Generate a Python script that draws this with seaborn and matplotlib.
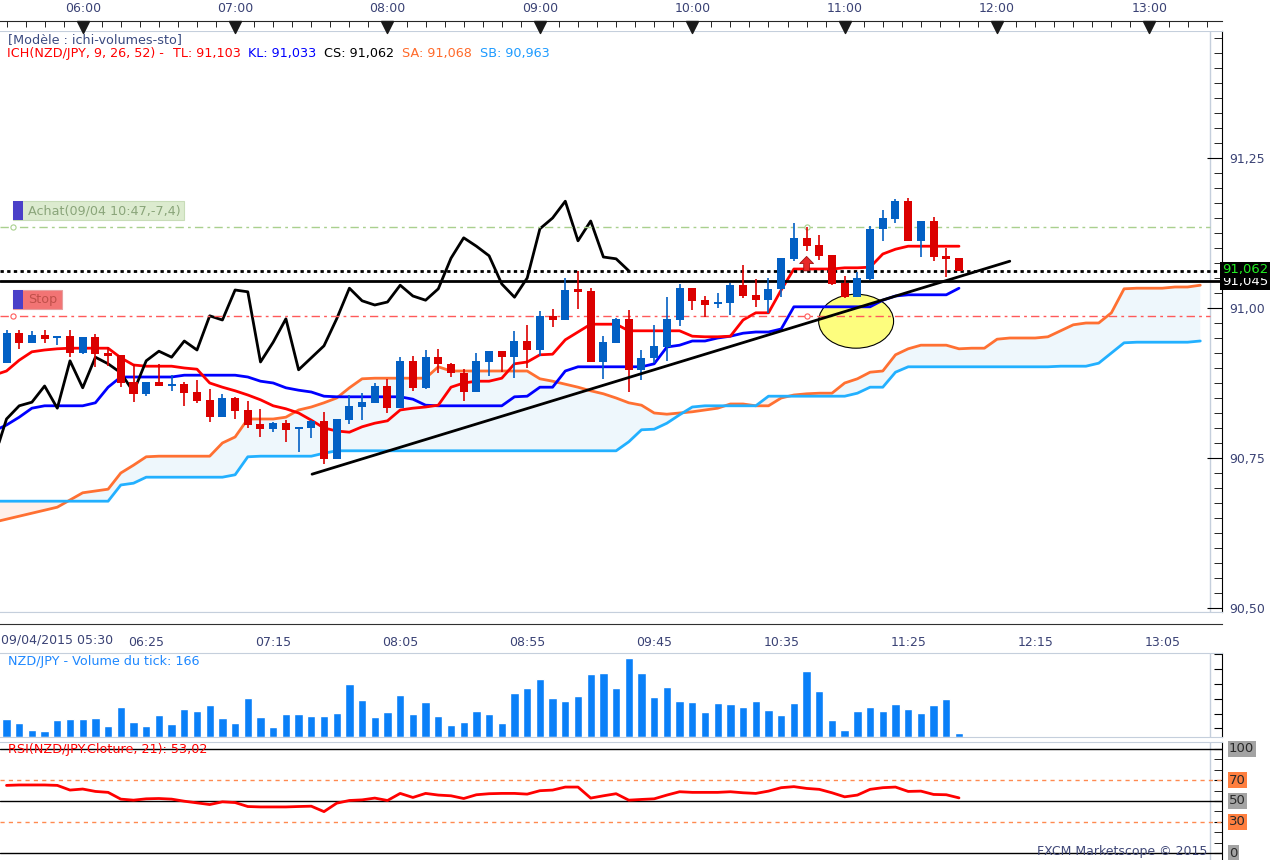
import numpy as np
import pandas as pd
import matplotlib
matplotlib.use("Agg")
import matplotlib.pyplot as plt
import matplotlib.patches as mpatches
import matplotlib.transforms as mtransforms
from matplotlib.ticker import MultipleLocator, FixedLocator
import seaborn as sns

sns.set_style("white")
plt.rcParams['font.family'] = ['DejaVu Sans']
plt.rcParams['font.size'] = 8.5

# %% data : NZD/JPY 5 min bars, 09/04/2015 from 05:30
t0 = pd.Timestamp("2015-04-09 05:30")

opens = [90.908, 90.958, 90.942, 90.955, 90.950, 90.953, 90.925, 90.952, 90.925, 90.922,
         90.877, 90.857, 90.877, 90.870, 90.873, 90.860, 90.847, 90.818, 90.850, 90.830,
         90.807, 90.798, 90.808, 90.798, 90.800, 90.812, 90.748, 90.813, 90.835, 90.842,
         90.870, 90.833, 90.912, 90.867, 90.918, 90.907, 90.892, 90.860, 90.910, 90.928,
         90.918, 90.945, 90.930, 90.987, 90.980, 91.032, 91.028, 90.910, 90.942, 90.982,
         90.897, 90.917, 90.935, 90.980, 91.033, 91.013, 91.007, 91.008, 91.038, 91.022,
         91.013, 91.032, 91.082, 91.117, 91.105, 91.088, 91.042, 91.018, 91.048, 91.132,
         91.148, 91.178, 91.112, 91.145, 91.087, 91.083]
highs = [90.963, 90.963, 90.962, 90.963, 90.953, 90.963, 90.952, 90.957, 90.935, 90.922,
         90.907, 90.877, 90.907, 90.888, 90.877, 90.880, 90.865, 90.857, 90.852, 90.845,
         90.832, 90.810, 90.813, 90.802, 90.813, 90.827, 90.815, 90.855, 90.858, 90.875,
         90.882, 90.918, 90.920, 90.930, 90.932, 90.908, 90.898, 90.925, 90.928, 90.928,
         90.962, 90.972, 90.995, 90.998, 91.050, 91.062, 91.033, 90.953, 90.983, 90.997,
         90.930, 90.972, 91.018, 91.040, 91.033, 91.020, 91.025, 91.042, 91.072, 91.048,
         91.050, 91.083, 91.142, 91.135, 91.122, 91.088, 91.053, 91.060, 91.137, 91.163,
         91.182, 91.183, 91.145, 91.152, 91.100, 91.083]
lows = [90.908, 90.932, 90.942, 90.942, 90.938, 90.918, 90.923, 90.902, 90.903, 90.868,
        90.843, 90.853, 90.870, 90.862, 90.837, 90.842, 90.810, 90.818, 90.815, 90.800,
        90.785, 90.793, 90.777, 90.760, 90.783, 90.740, 90.748, 90.807, 90.813, 90.842,
        90.825, 90.833, 90.862, 90.865, 90.892, 90.885, 90.845, 90.860, 90.887, 90.893,
        90.883, 90.900, 90.920, 90.968, 90.980, 90.998, 90.910, 90.882, 90.942, 90.860,
        90.880, 90.908, 90.912, 90.970, 90.997, 90.985, 91.000, 90.988, 91.017, 91.002,
        90.992, 91.018, 91.078, 91.095, 91.080, 91.038, 91.017, 91.018, 91.047, 91.112,
        91.142, 91.112, 91.085, 91.078, 91.052, 91.062]
closes = [90.958, 90.942, 90.955, 90.948, 90.953, 90.925, 90.952, 90.923, 90.920, 90.875,
          90.857, 90.877, 90.870, 90.873, 90.858, 90.845, 90.818, 90.850, 90.828, 90.805,
          90.798, 90.808, 90.797, 90.802, 90.812, 90.748, 90.815, 90.837, 90.843, 90.870,
          90.833, 90.912, 90.867, 90.918, 90.907, 90.892, 90.860, 90.912, 90.928, 90.918,
          90.945, 90.930, 90.987, 90.980, 91.030, 91.027, 90.910, 90.943, 90.982, 90.897,
          90.917, 90.937, 90.982, 91.033, 91.012, 91.005, 91.010, 91.038, 91.020, 91.013,
          91.032, 91.083, 91.117, 91.103, 91.087, 91.040, 91.018, 91.050, 91.132, 91.150,
          91.178, 91.112, 91.145, 91.085, 91.082, 91.062]

# ichimoku lines, first value is the bar before 05:30
tenkan = [90.888, 90.895, 90.913, 90.927, 90.930, 90.932, 90.933, 90.933, 90.933, 90.933,
          90.917, 90.905, 90.903, 90.903, 90.903, 90.900, 90.898, 90.875, 90.868, 90.862,
          90.855, 90.847, 90.837, 90.832, 90.825, 90.813, 90.800, 90.795, 90.793, 90.802,
          90.808, 90.812, 90.830, 90.833, 90.835, 90.838, 90.868, 90.875, 90.878, 90.878,
          90.883, 90.907, 90.910, 90.922, 90.923, 90.947, 90.960, 90.973, 90.973, 90.973,
          90.962, 90.962, 90.962, 90.962, 90.962, 90.953, 90.952, 90.952, 90.953, 90.980,
          90.992, 90.992, 91.030, 91.065, 91.065, 91.065, 91.065, 91.067, 91.067, 91.068,
          91.090, 91.098, 91.103, 91.103, 91.103, 91.103, 91.103]
kijun = [90.795, 90.805, 90.818, 90.833, 90.837, 90.837, 90.837, 90.837, 90.842, 90.868,
         90.885, 90.885, 90.885, 90.885, 90.885, 90.888, 90.888, 90.888, 90.888, 90.888,
         90.885, 90.878, 90.875, 90.867, 90.863, 90.860, 90.853, 90.852, 90.852, 90.852,
         90.852, 90.852, 90.852, 90.848, 90.838, 90.837, 90.837, 90.837, 90.837, 90.837,
         90.837, 90.852, 90.853, 90.868, 90.868, 90.895, 90.902, 90.902, 90.902, 90.902,
         90.902, 90.902, 90.907, 90.935, 90.938, 90.945, 90.945, 90.950, 90.953, 90.958,
         90.960, 90.960, 90.965, 91.002, 91.002, 91.002, 91.002, 91.002, 91.002, 91.002,
         91.013, 91.020, 91.022, 91.022, 91.022, 91.022, 91.033]
senkou_a = [90.643, 90.648, 90.653, 90.658, 90.663, 90.668, 90.680, 90.692, 90.695, 90.698,
            90.725, 90.738, 90.752, 90.753, 90.753, 90.753, 90.753, 90.753, 90.775, 90.785,
            90.815, 90.815, 90.815, 90.818, 90.830, 90.835, 90.842, 90.850, 90.867, 90.882,
            90.883, 90.883, 90.883, 90.883, 90.883, 90.902, 90.895, 90.895, 90.895, 90.895,
            90.895, 90.895, 90.895, 90.882, 90.878, 90.873, 90.868, 90.862, 90.857, 90.850,
            90.842, 90.838, 90.825, 90.823, 90.825, 90.827, 90.830, 90.833, 90.840, 90.840,
            90.837, 90.837, 90.850, 90.855, 90.857, 90.858, 90.858, 90.875, 90.882, 90.893,
            90.895, 90.922, 90.932, 90.938, 90.938, 90.938, 90.932, 90.933, 90.933, 90.948,
            90.950, 90.950, 90.950, 90.952, 90.962, 90.972, 90.975, 90.975, 90.992, 91.032,
            91.033, 91.033, 91.033, 91.035, 91.035, 91.038]
senkou_b = [90.678, 90.678, 90.678, 90.678, 90.678, 90.678, 90.678, 90.678, 90.678, 90.678,
            90.705, 90.708, 90.718, 90.718, 90.718, 90.718, 90.718, 90.718, 90.718, 90.722,
            90.752, 90.753, 90.753, 90.753, 90.753, 90.753, 90.758, 90.762, 90.762, 90.762,
            90.762, 90.762, 90.762, 90.762, 90.762, 90.762, 90.762, 90.762, 90.762, 90.762,
            90.762, 90.762, 90.762, 90.762, 90.762, 90.762, 90.762, 90.762, 90.762, 90.762,
            90.777, 90.797, 90.798, 90.808, 90.822, 90.835, 90.837, 90.837, 90.837, 90.837,
            90.837, 90.853, 90.853, 90.853, 90.853, 90.853, 90.853, 90.853, 90.858, 90.868,
            90.868, 90.893, 90.902, 90.902, 90.902, 90.902, 90.902, 90.902, 90.902, 90.902,
            90.902, 90.902, 90.902, 90.902, 90.903, 90.903, 90.903, 90.908, 90.925, 90.942,
            90.943, 90.943, 90.943, 90.943, 90.943, 90.945]

volumes = [36, 29, 14, 12, 34, 36, 36, 38, 22, 60,
           30, 22, 44, 26, 56, 52, 64, 38, 28, 78,
           40, 20, 46, 46, 42, 42, 48, 106, 74, 40,
           50, 84, 46, 70, 42, 24, 30, 52, 46, 28,
           88, 98, 116, 78, 72, 82, 126, 128, 98, 158,
           128, 80, 100, 72, 70, 50, 68, 66, 60, 72,
           54, 44, 68, 132, 92, 34, 14, 52, 60, 52,
           66, 56, 48, 64, 76, 8]
rsi = [65.0, 65.4, 65.4, 65.4, 65.0, 60.5, 61.5, 59.2, 58.3, 51.8,
       50.8, 52.1, 52.4, 51.8, 49.8, 48.2, 46.6, 49.2, 48.5, 44.7,
       44.3, 44.3, 44.3, 44.7, 45.0, 39.8, 47.9, 50.5, 51.1, 52.8,
       50.5, 57.3, 53.4, 57.3, 55.7, 55.0, 52.4, 56.0, 57.0, 57.3,
       57.3, 56.6, 59.9, 60.5, 63.4, 63.4, 52.8, 55.0, 57.0, 50.8,
       51.5, 52.1, 55.7, 58.9, 58.3, 58.3, 58.3, 58.9, 57.9, 57.3,
       59.5, 62.8, 63.8, 62.1, 61.2, 57.9, 54.0, 55.7, 61.2, 62.8,
       63.4, 59.2, 59.5, 56.3, 56.0, 53.0]

# drawing objects (bar index, price)
trend_idx = [24.06, 79.0]
trend_px = [90.723, 91.078]
order_buy = 91.135
order_stop = 90.987
order_bar = 63
last_close = 91.062
support = 91.045
zone_center = (66.9, 90.978)
zone_size = (5.9, 0.090)
vol_ticks = [18, 47, 76, 106, 136, 166]

# %% derived
o, h, l, c = map(np.array, (opens, highs, lows, closes))
bar_idx = np.arange(len(o))
line_idx = np.arange(-1, len(o))
cloud_idx = np.arange(-1, len(senkou_a) - 1)
chikou_idx = np.arange(-1, len(o) - 26)
sa, sb = np.array(senkou_a), np.array(senkou_b)
bull = c >= o
candle_col = np.where(bull, '#0360c4', '#db0000')

W, H = 1279, 860
fig = plt.figure(figsize=(W / 100, H / 100), dpi=100)


def panel(x0, y0, x1, y1):
    return fig.add_axes([x0 / W, 1 - y1 / H, (x1 - x0) / W, (y1 - y0) / H])


XLIM = (-0.512, 95.71)
EDGE = 94.76
frame_col = '#c5cfdc'
axis_txt = '#3a4275'
TXT = 9.2

# %% main price panel
ax = panel(0, 31, 1222, 612)
ax.set_xlim(*XLIM)
ax.set_ylim(90.4933, 91.4617)

ax.fill_between(cloud_idx, sa, sb, where=sa >= sb, interpolate=True, color='#eef7fc', lw=0, zorder=1)
ax.fill_between(cloud_idx, sa, sb, where=sa < sb, interpolate=True, color='#fff0ea', lw=0, zorder=1)
sns.lineplot(x=cloud_idx, y=sa, ax=ax, color='#ff7032', lw=2, estimator=None, legend=False, zorder=2)
sns.lineplot(x=cloud_idx, y=sb, ax=ax, color='#22b0ff', lw=2, estimator=None, legend=False, zorder=2)

ax.add_patch(mpatches.Ellipse(zone_center, zone_size[0], zone_size[1],
                              fc='#fdfd7e', ec='black', lw=0.8, zorder=2.5))

sns.lineplot(x=line_idx, y=kijun, ax=ax, color='#0000ff', lw=2, estimator=None, legend=False, zorder=3)
sns.lineplot(x=line_idx, y=tenkan, ax=ax, color='#ff0000', lw=2, estimator=None, legend=False, zorder=3)
sns.lineplot(x=chikou_idx, y=c[25:], ax=ax, color='black', lw=2, estimator=None, legend=False, zorder=3)

ax.axhline(support, color='black', lw=2, zorder=3)
ax.axhline(last_close, color='black', lw=2, ls=(0, (1.2, 1.2)), zorder=3)
ax.hlines(order_buy, XLIM[0], EDGE, color='#a9d08e', lw=1, ls=(0, (6, 3, 2, 3)), zorder=3)
ax.hlines(order_stop, XLIM[0], EDGE, color='#ff5a5a', lw=1, ls=(0, (6, 3, 2, 3)), zorder=3)
ax.scatter([0.51, order_bar], [order_buy, order_buy], s=14, fc='white', ec='#a9d08e', lw=0.8, zorder=4)
ax.scatter([0.51, order_bar], [order_stop, order_stop], s=14, fc='white', ec='#ff5a5a', lw=0.8, zorder=4)

# candles
ax.vlines(bar_idx, l, h, colors=candle_col, lw=1.2, zorder=5)
ax.bar(bar_idx, np.maximum(np.abs(c - o), 0.0025), bottom=np.minimum(o, c),
       width=0.63, color=candle_col, lw=0, zorder=6)

sns.lineplot(x=trend_idx, y=trend_px, ax=ax, color='black', lw=2, estimator=None, legend=False, zorder=7)

ax.add_patch(mpatches.FancyArrow(order_bar, 91.062, 0, 0.024, width=0.45, head_width=1.1,
                                 head_length=0.012, length_includes_head=True,
                                 fc='#e82828', ec='#a01010', lw=0.6, zorder=8))

ax.set(xlabel=None, ylabel=None)
ax.set_xticks([])
price_ticks = [90.50, 90.75, 91.00, 91.25]
ax.set_yticks(price_ticks, labels=[f"{p:.2f}".replace('.', ',') for p in price_ticks])
ax.yaxis.set_minor_locator(MultipleLocator(0.025))
ax.tick_params(axis='y', which='both', left=False, right=True, labelleft=False, labelright=True,
               direction='in', color='black', labelcolor=axis_txt, labelsize=9, pad=5)
ax.tick_params(axis='y', which='major', length=11)
ax.tick_params(axis='y', which='minor', length=6)
ax.spines['left'].set_visible(False)
for s in ('top', 'bottom'):
    ax.spines[s].set_color(frame_col)
ax.spines['right'].set_color('black')
ax.axvline(EDGE, color=frame_col, lw=1, zorder=0)

blend = mtransforms.blended_transform_factory(ax.transAxes, ax.transData)
ax.text(1.0, support - 0.001, '91,045', transform=blend, ha='left', va='center', color='white',
        fontsize=9.5, bbox=dict(boxstyle='square,pad=0.12', fc='black', ec='none'), zorder=10, clip_on=False)
ax.text(1.0, last_close + 0.0015, '91,062', transform=blend, ha='left', va='center', color='#22ee22',
        fontsize=9.5, bbox=dict(boxstyle='square,pad=0.12', fc='black', ec='none'), zorder=11, clip_on=False)

# %% time axes
hour_idx = np.arange(6, 96, 12)
ax_top = panel(0, 21, 1222, 31)
ax_top.set_xlim(*XLIM)
ax_top.set_ylim(0, 1)
ax_top.set_xticks(hour_idx, labels=[(t0 + pd.Timedelta(minutes=5 * int(i))).strftime('%H:%M') for i in hour_idx])
ax_top.xaxis.set_minor_locator(MultipleLocator(1.5))
ax_top.xaxis.tick_top()
ax_top.tick_params(axis='x', which='both', direction='in', color='black', labelcolor=axis_txt,
                   labelsize=9, pad=4)
ax_top.tick_params(axis='x', which='major', length=8)
ax_top.tick_params(axis='x', which='minor', length=4)
ax_top.set_yticks([])
for s in ('left', 'right', 'bottom'):
    ax_top.spines[s].set_visible(False)
ax_top.scatter(hour_idx, np.full(len(hour_idx), 0.45), marker='v', s=75, color='#1a1a1a', zorder=5, clip_on=False)

lab_idx = np.arange(1, 96, 10)
ax_bot = panel(0, 612, 1222, 624)
ax_bot.set_xlim(*XLIM)
ax_bot.set_ylim(0, 1)
ax_bot.set_xticks(lab_idx, labels=[''] + [(t0 + pd.Timedelta(minutes=5 * int(i))).strftime('%H:%M')
                                          for i in lab_idx[1:]])
ax_bot.xaxis.set_minor_locator(MultipleLocator(1.25, offset=1))
ax_bot.tick_params(axis='x', which='both', direction='in', color='#303030', labelcolor=axis_txt,
                   labelsize=9, pad=9)
ax_bot.tick_params(axis='x', which='major', length=12)
ax_bot.tick_params(axis='x', which='minor', length=5)
ax_bot.set_yticks([])
for s in ('left', 'right'):
    ax_bot.spines[s].set_visible(False)
ax_bot.spines['top'].set_color(frame_col)
ax_bot.spines['bottom'].set_color('#303030')
fig.text(1 / W, 1 - 640 / H, t0.strftime('%d/%m/%Y %H:%M'), ha='left', va='center',
         color=axis_txt, fontsize=9)

# %% volume panel
ax_vol = panel(0, 653, 1222, 737)
sns.barplot(x=bar_idx, y=volumes, ax=ax_vol, native_scale=True, color='#0a80f8', saturation=1,
            width=0.66, errorbar=None, zorder=2)
ax_vol.set_xlim(*XLIM)
ax_vol.set_ylim(0, 168)
ax_vol.set(xlabel=None, ylabel=None)
ax_vol.set_xticks([])
ax_vol.yaxis.set_major_locator(FixedLocator(vol_ticks))
ax_vol.tick_params(axis='y', left=False, right=True, labelleft=False, labelright=False,
                   direction='in', length=6, color='black')
for s in ('top', 'bottom'):
    ax_vol.spines[s].set_color(frame_col)
ax_vol.spines['left'].set_visible(False)
ax_vol.spines['right'].set_color('black')
ax_vol.axvline(EDGE, color=frame_col, lw=1, zorder=0)

# %% RSI panel
ax_rsi = panel(0, 742, 1222, 860)
ax_rsi.set_xlim(*XLIM)
ax_rsi.set_ylim(-6.7, 106.7)
for lvl in (0, 50, 100):
    ax_rsi.axhline(lvl, color='black', lw=1, zorder=1)
for lvl in (30, 70):
    ax_rsi.axhline(lvl, color='#ff8a50', lw=1, ls=(0, (3, 3)), zorder=1)
sns.lineplot(x=bar_idx, y=rsi, ax=ax_rsi, color='#ff0000', lw=2, estimator=None, legend=False, zorder=3)
ax_rsi.set(xlabel=None, ylabel=None)
ax_rsi.set_xticks([])
ax_rsi.yaxis.set_major_locator(FixedLocator([0, 30, 50, 70, 100]))
ax_rsi.yaxis.set_minor_locator(MultipleLocator(10))
ax_rsi.tick_params(axis='y', which='both', left=False, right=True, labelleft=False, labelright=False,
                   direction='in', length=6, color='black')
ax_rsi.spines['left'].set_visible(False)
ax_rsi.spines['bottom'].set_visible(False)
ax_rsi.spines['top'].set_color(frame_col)
ax_rsi.spines['right'].set_color('black')
ax_rsi.axvline(EDGE, color=frame_col, lw=1, zorder=0)
rblend = mtransforms.blended_transform_factory(ax_rsi.transAxes, ax_rsi.transData)
for lvl, fc in ((100, '#a3a3a3'), (70, '#ff7f3f'), (50, '#a3a3a3'), (30, '#ff7f3f'), (0, '#a3a3a3')):
    ax_rsi.annotate(str(lvl), xy=(1.0, lvl), xycoords=rblend, xytext=(5, 0), textcoords='offset points',
                    ha='left', va='center', color='#2a2a2a', fontsize=9.5, annotation_clip=False,
                    bbox=dict(boxstyle='square,pad=0.1', fc=fc, ec='none'))

# %% texts and order labels
def ftext(x, y, s, color, **kw):
    fig.text(x / W, 1 - y / H, s, color=color, va='center', ha=kw.pop('ha', 'left'),
             fontsize=kw.pop('fontsize', TXT), **kw)


ftext(8, 40, '[Modèle : ichi-volumes-sto]', '#3a4a80')
ftext(7, 54, 'ICH(NZD/JPY, 9, 26, 52) -', '#ff0000')
ftext(173, 54, 'TL: 91,103', '#ff0000')
ftext(248, 54, 'KL: 91,033', '#0000ff')
ftext(324, 54, 'CS: 91,062', '#000000')
ftext(402, 54, 'SA: 91,068', '#ff6a2a')
ftext(480, 54, 'SB: 90,963', '#1e9bff')
ftext(8, 661, 'NZD/JPY - Volume du tick: 166', '#1e88ff')
ftext(8, 750, 'RSI(NZD/JPY.Cloture, 21): 53,02', '#ff0000')
ftext(1207, 852, 'FXCM Marketscope © 2015', '#404878', ha='right', fontsize=9)

ov = fig.add_axes([0, 0, 1, 1], facecolor='none')
ov.set_xlim(0, W)
ov.set_ylim(H, 0)
ov.axis('off')
ov.add_patch(mpatches.Rectangle((13, 201), 171, 19, fc='#dcebcf', ec='#c8dcb8', lw=0.8))
ov.add_patch(mpatches.Rectangle((13, 201), 10, 19, fc='#4a40c8', ec='none'))
ov.text(28, 210.5, 'Achat(09/04 10:47,-7,4)', color='#8aa57a', va='center', fontsize=TXT)
ov.add_patch(mpatches.Rectangle((13, 290), 49, 19, fc='#f27474', ec='#e8a0a0', lw=0.8))
ov.add_patch(mpatches.Rectangle((13, 290), 10, 19, fc='#4a40c8', ec='none'))
ov.text(28, 299.5, 'Stop', color='#c0504a', va='center', fontsize=TXT)

fig.savefig('out.png', dpi=100, facecolor='white')
